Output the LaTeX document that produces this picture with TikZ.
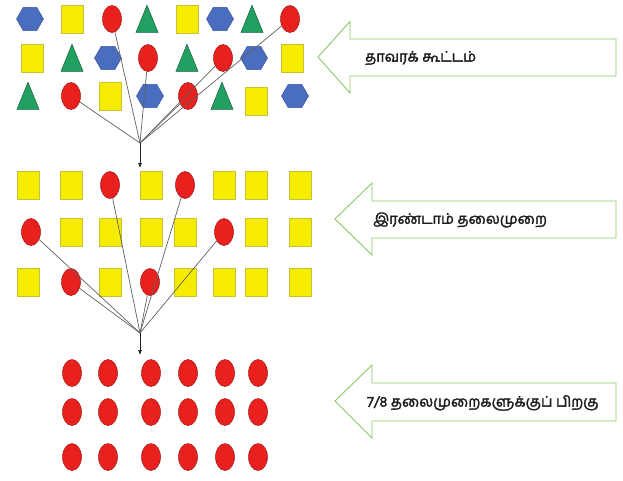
\documentclass[tikz,border=0pt]{standalone}
\usepackage{fontspec}
\newfontfamily\tamilfont[Script=Tamil,AutoFakeBold=2.2]{Hind Madurai}
\usetikzlibrary{arrows.meta,positioning,shapes.geometric}
\definecolor{ShapeRed}{HTML}{E8201E}
\definecolor{ShapeYellow}{HTML}{F6EC00}
\definecolor{ShapeBlue}{HTML}{4A6DC0}
\definecolor{ShapeGreen}{HTML}{22A062}
\definecolor{ArrowGreen}{HTML}{8CC864}
\definecolor{DarkText}{HTML}{1E1E1E}
\tikzset{
  redoval/.style={ellipse, draw=ShapeRed!70!black, fill=ShapeRed, line width=.5pt, minimum width=19pt, minimum height=27pt, inner sep=0pt},
  sqshape/.style={rectangle, draw=ShapeYellow!60!gray, fill=ShapeYellow, line width=.8pt, minimum width=22pt, minimum height=28pt, inner sep=0pt},
  hexshape/.style={regular polygon, regular polygon sides=6, draw=ShapeBlue!80!black, fill=ShapeBlue, line width=.5pt, minimum size=27pt, inner sep=0pt},
  trishape/.style={isosceles triangle, isosceles triangle stretches, shape border rotate=90, draw=ShapeGreen!60!black, fill=ShapeGreen, line width=.5pt, minimum width=22pt, minimum height=27pt, inner sep=0pt, anchor=south, yshift=-13.5pt},
  link/.style={draw=gray!75!black, line width=.7pt},
  arr/.style={-{Latex[length=5pt,width=4pt]}, line width=.7pt, draw=DarkText},
  blockarrow/.style={draw=ArrowGreen, line width=.9pt, fill=white},
  lbl/.style={anchor=west, text=DarkText, font=\tamilfont\bfseries\fontsize{14.5}{16}\selectfont, inner sep=0pt}
}
\begin{document}
\begin{tikzpicture}[x=1pt,y=-1pt]
\useasboundingbox (0,0) rectangle (623,480);
% plant group
\foreach \s/\x/\n in {hexshape/30/a1, sqshape/72/a2, redoval/112/a3, trishape/147/a4, sqshape/187/a5, hexshape/220/a6, trishape/252/a7, redoval/290/a8}
  \node[\s] (\n) at (\x,19) {};
\foreach \s/\x/\n in {sqshape/32/b1, trishape/72/b2, hexshape/108/b3, redoval/148/b4, trishape/187/b5, redoval/223/b6, hexshape/254/b7, sqshape/292/b8}
  \node[\s] (\n) at (\x,58) {};
\foreach \s/\x/\n in {trishape/28/c1, redoval/71/c2, sqshape/110/c3, hexshape/150/c4, redoval/188/c5, trishape/222/c6, hexshape/295/c8}
  \node[\s] (\n) at (\x,96) {};
\node[sqshape] (c7) at (256,101) {};
\coordinate (meet1) at (140,143);
\coordinate (end1) at (140,168);
\foreach \n in {a3, a8, b4, b6, c2, c5}
  \draw[link] (\n) -- (meet1);
\draw[arr] (meet1) -- (end1);
% second generation
\foreach \s/\x/\n in {sqshape/28/d1, sqshape/71/d2, redoval/110/d3, sqshape/151/d4, redoval/185/d5, sqshape/224/d6, sqshape/256/d7, sqshape/300/d8}
  \node[\s] (\n) at (\x,185) {};
\foreach \s/\x/\n in {redoval/31/e1, sqshape/71/e2, sqshape/110/e3, sqshape/151/e4, sqshape/185/e5, redoval/224/e6, sqshape/256/e7, sqshape/300/e8}
  \node[\s] (\n) at (\x,232) {};
\foreach \s/\x/\n in {sqshape/28/f1, redoval/71/f2, sqshape/110/f3, redoval/150/f4, sqshape/185/f5, sqshape/224/f6, sqshape/256/f7, sqshape/300/f8}
  \node[\s] (\n) at (\x,282) {};
\coordinate (meet2) at (140,333);
\coordinate (end2) at (140,355);
\foreach \n in {d3, d5, e1, e6, f2, f4}
  \draw[link] (\n) -- (meet2);
\draw[arr] (meet2) -- (end2);
% after 7/8 generations
\foreach \y [count=\r] in {373, 412, 457}
  \foreach \x [count=\c] in {72, 108, 151, 188, 225, 258}
    \node[redoval] (g\r\c) at (\x,\y) {};
% labels
\draw[blockarrow] (318,57) -- (350,21.5) -- (350,39) -- (616,39) -- (616,76) -- (350,76) -- (350,93) -- cycle;
\node[lbl] (plant) at (365,58) {தாவரக் கூட்டம்};
\draw[blockarrow] (335,219) -- (372,183) -- (372,201) -- (616,201) -- (616,238) -- (372,238) -- (372,255) -- cycle;
\node[lbl] (second) at (373,220) {இரண்டாம் தலைமுறை};
\draw[blockarrow] (335,401) -- (372,365) -- (372,383) -- (616,383) -- (616,421) -- (372,421) -- (372,438) -- cycle;
\node[lbl] (later) at (367,403) {7/8 தலைமுறைகளுக்குப் பிறகு};
\end{tikzpicture}
\end{document}
